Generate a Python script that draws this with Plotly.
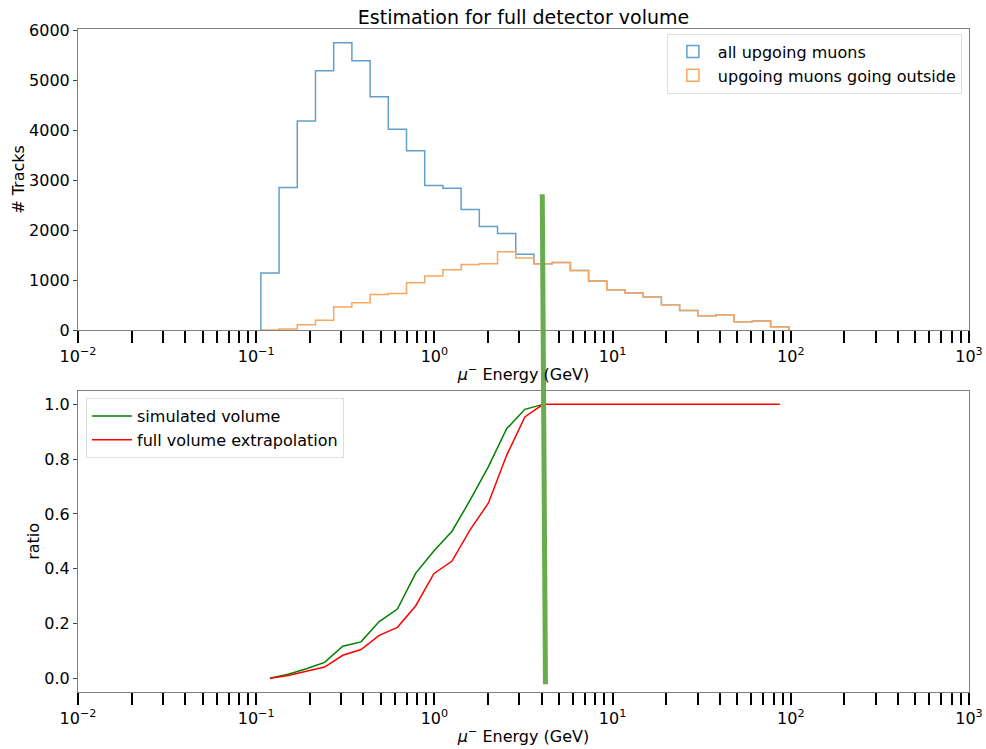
import numpy as np
import plotly.graph_objects as go

# ---------------- data ----------------
e_min, e_max, n_bins = 0.1062, 97.5, 29
edges = list(np.logspace(np.log10(e_min), np.log10(e_max), n_bins + 1))

all_muons = [1140, 2853, 4187, 5193, 5753, 5393, 4673, 4020, 3593, 2893,
             2840, 2413, 2073, 1933, 1520, 1327, 1353, 1193, 980, 807,
             740, 660, 507, 393, 287, 307, 167, 180, 67]
outside_muons = [0, 20, 107, 193, 460, 547, 713, 733, 947, 1080,
                 1207, 1313, 1327, 1567, 1440, 1327, 1353, 1193, 980, 807,
                 740, 660, 507, 393, 287, 307, 167, 180, 67]

ratio_sim = [0.0, 0.015, 0.035, 0.058, 0.117, 0.133, 0.207, 0.253, 0.383, 0.465,
             0.537, 0.651, 0.773, 0.911, 0.982, 1.0]
ratio_full = [0.0, 0.010, 0.026, 0.041, 0.084, 0.105, 0.157, 0.186, 0.264, 0.382,
              0.428, 0.543, 0.640, 0.814, 0.954, 1.0, 1.0, 1.0, 1.0, 1.0,
              1.0, 1.0, 1.0, 1.0, 1.0, 1.0, 1.0, 1.0, 1.0]

# cut marker line: (energy, value) at top panel and bottom panel
cut_top = (4.03, 2720)
cut_bottom = (4.20, -0.022)

decade_exps = [-2, -1, 0, 1, 2, 3]
xtick_vals = [10.0 ** k for k in decade_exps]
xtick_text = ["10<sup>−%d</sup>" % -k if k < 0 else "10<sup>%d</sup>" % k for k in decade_exps]
yticks_top = [0, 1000, 2000, 3000, 4000, 5000, 6000]
yticks_bot = [0.0, 0.2, 0.4, 0.6, 0.8, 1.0]

# ---------------- styling ----------------
FONT = "DejaVu Sans"
C_BLUE = "rgb(98,160,203)"
C_ORANGE = "rgb(250,166,96)"
C_CUT = "rgb(104,172,78)"
X_RANGE_LOG = [-2, 3]
Y_RANGE_TOP = [0, 6030]
Y_RANGE_BOT = [-0.05, 1.05]
DOM_TOP = [0.546, 1.0]
DOM_BOT = [0.0, 0.4545]

centers = [np.sqrt(edges[i] * edges[i + 1]) for i in range(n_bins)]


def step_xy(counts):
    xs = [edges[0]] + edges
    ys = [0] + list(counts) + [0]
    return xs, ys


fig = go.Figure()

for counts, color, name in [(all_muons, C_BLUE, "all upgoing muons"),
                            (outside_muons, C_ORANGE, "upgoing muons going outside")]:
    xs, ys = step_xy(counts)
    fig.add_trace(go.Scatter(x=xs, y=ys, mode="lines", line=dict(color=color, width=1.5, shape="hv"),
                             showlegend=False, xaxis="x", yaxis="y", hoverinfo="skip"))
    fig.add_trace(go.Bar(x=[None], y=[None], name=name, xaxis="x", yaxis="y",
                         marker=dict(color="rgba(0,0,0,0)", line=dict(color=color, width=1.5)),
                         legend="legend"))

fig.add_trace(go.Scatter(x=centers[:len(ratio_sim)], y=ratio_sim, mode="lines", name="simulated volume",
                         line=dict(color="green", width=1.5), xaxis="x2", yaxis="y2", legend="legend2"))
fig.add_trace(go.Scatter(x=centers[:len(ratio_full)], y=ratio_full, mode="lines",
                         name="full volume extrapolation",
                         line=dict(color="red", width=1.5), xaxis="x2", yaxis="y2", legend="legend2"))


def to_paper_x(e):
    return (np.log10(e) - X_RANGE_LOG[0]) / (X_RANGE_LOG[1] - X_RANGE_LOG[0])


def to_paper_y(v, rng, dom):
    return dom[0] + (dom[1] - dom[0]) * (v - rng[0]) / (rng[1] - rng[0])


fig.add_shape(type="line", xref="paper", yref="paper",
              x0=to_paper_x(cut_top[0]), y0=to_paper_y(cut_top[1], Y_RANGE_TOP, DOM_TOP),
              x1=to_paper_x(cut_bottom[0]), y1=to_paper_y(cut_bottom[1], Y_RANGE_BOT, DOM_BOT),
              line=dict(color=C_CUT, width=5), layer="above")

minor_vals = [m * 10.0 ** k for k in range(-2, 3) for m in range(2, 10)]

xaxis_common = dict(
    type="log", range=X_RANGE_LOG, tickvals=xtick_vals, ticktext=xtick_text,
    ticks="outside", ticklen=12, tickwidth=1.5, tickcolor="black",
    minor=dict(tickvals=minor_vals, ticks="outside", ticklen=12, tickwidth=1.5,
               tickcolor="black", showgrid=False),
    showgrid=False, zeroline=False, showline=True, mirror=True, linecolor="#808080", linewidth=1,
    tickfont=dict(family=FONT, size=16, color="black"),
    title=dict(text="<i>μ</i><sup>−</sup> Energy (GeV)", font=dict(family=FONT, size=16, color="black"),
               standoff=3),
    automargin=False,
)
yaxis_common = dict(
    ticks="outside", ticklen=4, tickcolor="#444", showgrid=False, zeroline=False,
    showline=True, mirror=True, linecolor="#808080", linewidth=1,
    tickfont=dict(family=FONT, size=16, color="black"),
    automargin=False,
)

fig.update_layout(
    width=986, height=749,
    margin=dict(l=78, r=17, t=29, b=57),
    paper_bgcolor="white", plot_bgcolor="white",
    font=dict(family=FONT, size=16, color="black"),
    title=dict(text="Estimation for full detector volume", x=(78 + 969) / 2 / 986, xanchor="center",
               y=1 - 17 / 749, yanchor="middle", font=dict(family=FONT, size=19, color="black")),
    xaxis=dict(domain=[0, 1], anchor="y", **xaxis_common),
    yaxis=dict(domain=DOM_TOP, anchor="x", range=Y_RANGE_TOP, tickvals=yticks_top,
               title=dict(text="# Tracks", font=dict(family=FONT, size=16, color="black"), standoff=0),
               **yaxis_common),
    xaxis2=dict(domain=[0, 1], anchor="y2", **xaxis_common),
    yaxis2=dict(domain=DOM_BOT, anchor="x2", range=Y_RANGE_BOT, tickvals=yticks_bot,
                tickformat=".1f",
                title=dict(text="ratio", font=dict(family=FONT, size=16, color="black"), standoff=0),
                **yaxis_common),
    legend=dict(x=0.992, y=0.993, xanchor="right", yanchor="top", bgcolor="white",
                bordercolor="#dddddd", borderwidth=1, font=dict(family=FONT, size=16, color="black"),
                itemwidth=40, tracegroupgap=0),
    legend2=dict(x=0.009, y=0.4434, xanchor="left", yanchor="top", bgcolor="white",
                 bordercolor="#dddddd", borderwidth=1, font=dict(family=FONT, size=16, color="black"),
                 itemwidth=40, tracegroupgap=0),
    barmode="overlay",
)

fig.write_html("out.html", config={"displayModeBar": False},
               post_script="document.body.style.margin='0';document.body.style.overflow='hidden';")
